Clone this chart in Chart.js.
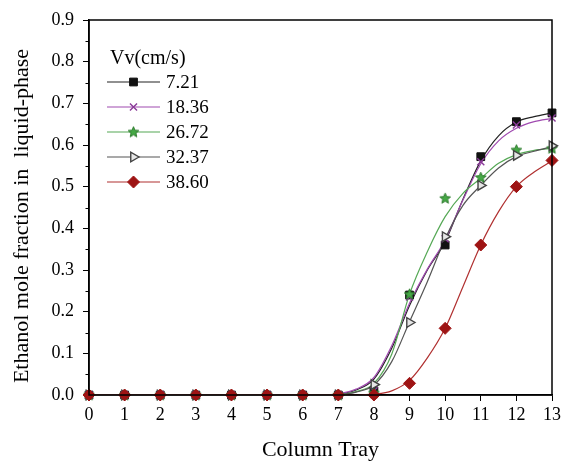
<!DOCTYPE html>
<html><head><meta charset="utf-8">
<script src="https://cdn.jsdelivr.net/npm/chart.js@4/dist/chart.umd.min.js"></script>
<style>html,body{margin:0;padding:0;background:#fff;}</style>
</head><body>
<canvas id="c" width="565" height="463"></canvas>
<script>
// ---- data ----
const trays = [0,1,2,3,4,5,6,7,8,9,10,11,12,13];
const seriesNames = ['7.21','18.36','26.72','32.37','38.60'];
const legendTitle = 'Vv(cm/s)';
const xTitle = 'Column Tray';
const yTitle = 'Ethanol mole fraction in  liquid-phase';
const v721  = [0,0,0,0,0,0,0,0,0.010,0.240,0.360,0.572,0.656,0.677];
const v1836 = [0,0,0,0,0,0,0,0,0.010,0.235,0.375,0.560,0.648,0.665];
const v2672 = [0,0,0,0,0,0,0,0,0.005,0.242,0.472,0.522,0.588,0.592];
const v3237 = [0,0,0,0,0,0,0,0,0.025,0.174,0.380,0.503,0.575,0.598];
const v3860 = [0,0,0,0,0,0,0,0,0.000,0.028,0.160,0.360,0.500,0.563];
// fitted curves
const fitX    = [0,6,6.5,7,7.5,8,8.5,9,9.5,10,10.5,11,11.5,12,12.5,13];
const fit721  = [0,0,0,0.002,0.012,0.038,0.112,0.215,0.300,0.368,0.470,0.562,0.622,0.655,0.668,0.677];
const fit1836 = [0,0,0,0.003,0.014,0.042,0.118,0.220,0.302,0.372,0.468,0.555,0.610,0.640,0.656,0.664];
const fit2672 = [0,0,0,0.001,0.008,0.028,0.098,0.242,0.344,0.428,0.484,0.520,0.556,0.577,0.587,0.592];
const fit3237 = [0,0,0,0.001,0.007,0.024,0.080,0.176,0.272,0.375,0.455,0.503,0.545,0.572,0.585,0.596];
const fit3860 = [0,0,0,0,0,0.002,0.010,0.035,0.089,0.160,0.260,0.360,0.440,0.500,0.535,0.562];
const yTicks = [0,0.1,0.2,0.3,0.4,0.5,0.6,0.7,0.8,0.9];

const SERIF = '"Liberation Serif", "Times New Roman", serif';

function makeStar(fill, stroke){
  const c = document.createElement('canvas'); c.width = 13; c.height = 13;
  const g = c.getContext('2d');
  g.beginPath();
  for (let i=0;i<10;i++){
    const r = i%2 ? 2.5 : 5.6;
    const a = -Math.PI/2 + i*Math.PI/5;
    const x = 6.5 + r*Math.cos(a), y = 6.8 + r*Math.sin(a);
    i ? g.lineTo(x,y) : g.moveTo(x,y);
  }
  g.closePath();
  g.fillStyle = fill; g.fill();
  g.strokeStyle = stroke; g.lineWidth = 1; g.stroke();
  return c;
}
const starImg = makeStar('#45a845', '#2c7a2c');

const styles = [
  {line:'#222222', fill:'#111111', border:'#111111', pointStyle:'rect', radius:5.5, rotation:0, bw:1},
  {line:'#a04ab0', fill:'rgba(0,0,0,0)', border:'#8a3a98', pointStyle:'crossRot', radius:5, rotation:0, bw:1.4},
  {line:'#55a855', fill:'#45a845', border:'#2c7a2c', pointStyle:starImg, radius:6, rotation:0, bw:1},
  {line:'#555555', fill:'#e6e6e6', border:'#444444', pointStyle:'triangle', radius:5.5, rotation:90, bw:1.4},
  {line:'#b03030', fill:'#9e1414', border:'#9e1414', pointStyle:'rectRot', radius:6, rotation:0, bw:1}
];
const markerVals = [v721, v1836, v2672, v3237, v3860];
const fitVals = [fit721, fit1836, fit2672, fit3237, fit3860];

const datasets = [];
markerVals.forEach((vals, i) => {
  const s = styles[i];
  datasets.push({
    label: seriesNames[i],
    data: trays.map((t, k) => ({x: t, y: vals[k]})),
    showLine: false,
    pointStyle: s.pointStyle, pointRadius: s.radius, pointRotation: s.rotation,
    backgroundColor: s.fill, borderColor: s.border, borderWidth: s.bw,
    pointHoverRadius: s.radius,
    clip: false,
    order: 4 - i
  });
  datasets.push({
    label: seriesNames[i] + ' fit',
    data: fitX.map((t, k) => ({x: t, y: fitVals[i][k]})),
    showLine: true, pointRadius: 0, borderColor: s.line, borderWidth: 1.2,
    cubicInterpolationMode: 'monotone', fill: false,
    order: 10 + (4 - i)
  });
});

const frame = {
  id: 'frame',
  afterDatasetsDraw(chart){
    const {ctx, chartArea: a, scales} = chart;
    ctx.save();
    ctx.strokeStyle = '#000'; ctx.lineWidth = 1.5;
    ctx.strokeRect(a.left, a.top, a.right - a.left, a.bottom - a.top);
    // minor y ticks
    ctx.lineWidth = 1;
    for (let k = 0; k < yTicks.length - 1; k++){
      const v = (yTicks[k] + yTicks[k+1]) / 2;
      const py = Math.round(scales.y.getPixelForValue(v)) + 0.5;
      ctx.beginPath(); ctx.moveTo(a.left - 3.5, py); ctx.lineTo(a.left, py); ctx.stroke();
    }
    ctx.restore();
  },
  afterDraw(chart){
    const ctx = chart.ctx;
    ctx.save();
    // y axis title
    ctx.save();
    ctx.translate(22, 216);
    ctx.rotate(-Math.PI/2);
    ctx.fillStyle = '#000';
    ctx.font = '22px ' + SERIF;
    ctx.textAlign = 'center'; ctx.textBaseline = 'middle';
    ctx.fillText(yTitle, 0, 0);
    ctx.restore();
    // legend
    ctx.fillStyle = '#000';
    ctx.textBaseline = 'middle';
    ctx.textAlign = 'left';
    ctx.font = '20px ' + SERIF;
    ctx.fillText(legendTitle, 110, 59);
    ctx.font = '19px ' + SERIF;
    styles.forEach((s, i) => {
      const y = 82 + 25 * i;
      ctx.strokeStyle = s.line; ctx.lineWidth = 1.2;
      ctx.beginPath(); ctx.moveTo(107, y); ctx.lineTo(160, y); ctx.stroke();
      ctx.fillStyle = s.fill; ctx.strokeStyle = s.border; ctx.lineWidth = s.bw;
      Chart.helpers.drawPoint(ctx, {pointStyle: s.pointStyle, radius: s.radius, rotation: s.rotation, borderWidth: s.bw}, 133.5, y);
      ctx.fillStyle = '#000';
      ctx.fillText(seriesNames[i], 166, y + 1);
    });
    ctx.restore();
  }
};

new Chart(document.getElementById('c'), {
  type: 'scatter',
  data: {datasets},
  options: {
    responsive: false,
    devicePixelRatio: 1,
    animation: false,
    events: [],
    layout: {padding: {left: 0, right: 13, top: 20, bottom: 0}},
    plugins: {legend: {display: false}, tooltip: {enabled: false}},
    scales: {
      x: {
        type: 'linear', min: 0, max: 13,
        ticks: {stepSize: 1, color: '#000', padding: 3, font: {family: SERIF, size: 18}, maxRotation: 0},
        grid: {drawOnChartArea: false, tickLength: 6, color: '#000', tickColor: '#000', tickWidth: 1},
        border: {display: true, color: '#000', width: 1.5},
        title: {display: true, text: xTitle, color: '#000', font: {family: SERIF, size: 22}, padding: {top: 0, bottom: 0}},
        afterFit(s){ s.height = 68; }
      },
      y: {
        type: 'linear', min: 0, max: 0.9,
        afterBuildTicks(s){ s.ticks = yTicks.map(v => ({value: v})); },
        ticks: {color: '#000', padding: 9, font: {family: SERIF, size: 18}, callback: v => Number(v).toFixed(1)},
        grid: {drawOnChartArea: false, tickLength: 6, color: '#000', tickColor: '#000', tickWidth: 1},
        border: {display: true, color: '#000', width: 1.5},
        title: {display: false},
        afterFit(s){ s.width = 89; }
      }
    }
  },
  plugins: [frame]
});
</script>
</body></html>
